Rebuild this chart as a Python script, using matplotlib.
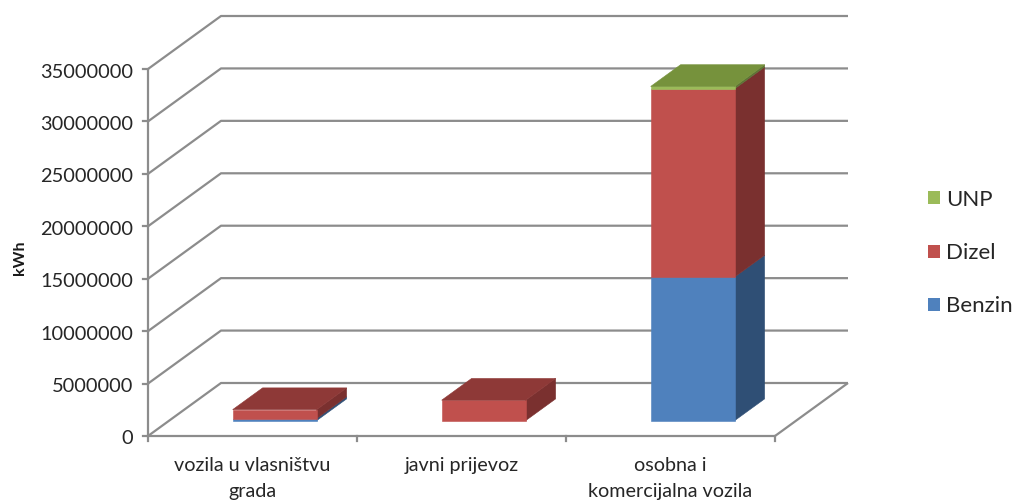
import matplotlib
matplotlib.use("Agg")
import matplotlib.pyplot as plt
from matplotlib.patches import Polygon, Patch

plt.rcParams["font.family"] = ["Lato", "DejaVu Sans"]

# Energy use by vehicle group, stacked by fuel (kWh)
categories = ["vozila u vlasništvu\ngrada", "javni prijevoz", "osobna i\nkomercijalna vozila"]
benzin = [200000, 0, 13700000]
dizel = [850000, 1950000, 17950000]
unp = [0, 0, 220000]
series_names = ["Benzin", "Dizel", "UNP"]
series_values = [benzin, dizel, unp]
value_ticks = [0, 5000000, 10000000, 15000000, 20000000, 25000000, 30000000, 35000000]

front_colors = ["#4F81BD", "#C0504D", "#9BBB59"]
side_colors = ["#2F4F75", "#7A302F", "#5E7335"]
top_colors = ["#3C6595", "#8E3937", "#76923C"]
GRID = "#8C8C8C"

W, H = 1013, 500
fig = plt.figure(figsize=(W / 100, H / 100), dpi=100)

# The axes is the front plane of the box; depth is a shear applied in data units
left, right, bottom, top = 148, 775, 436, 69
ax = fig.add_axes([left / W, 1 - bottom / H, (right - left) / W, (bottom - top) / H])
ax.set_xlim(0, 3)
ax.set_ylim(0, 35000000)
ax.axis("off")

x_per_px = 3 / (right - left)
y_per_px = 35000000 / (bottom - top)
DEPTH_X = 73 * x_per_px
DEPTH_Y = 53 * y_per_px


def project(x, y, depth):
    return (x + depth * DEPTH_X, y + depth * DEPTH_Y)


def line(points, lw=1.6, z=1):
    xs, ys = zip(*points)
    ax.plot(xs, ys, color=GRID, lw=lw, clip_on=False, zorder=z, solid_capstyle="butt")


# Wall grid: each level runs along the side wall and then the back wall
for v in value_ticks:
    line([project(0, v, 0), project(0, v, 1), project(3, v, 1)])
    ax.plot([-5 * x_per_px, 0], [v, v], color=GRID, lw=1.6, clip_on=False, zorder=1)

# Floor and front edges
line([(0, 0), (3, 0), project(3, 0, 1)])
line([(0, 0), (0, 35000000)])
for i in range(4):
    ax.plot([i, i], [-5 * y_per_px, 0], color=GRID, lw=1.6, clip_on=False, zorder=1)


def face(points, color, z):
    ax.add_patch(Polygon(points, closed=True, facecolor=color, edgecolor=color,
                         lw=0.4, clip_on=False, zorder=z))


# Stacked bars with a side and top face
bar_half = 84 * x_per_px / 2
bar_shift = 1 * x_per_px
d0, d1 = 0.29, 0.70
for i in range(len(categories)):
    x0, x1 = i + 0.5 + bar_shift - bar_half, i + 0.5 + bar_shift + bar_half
    base = 0
    z = 3 + i
    last = max(k for k, s in enumerate(series_values) if s[i] > 0)
    for k, s in enumerate(series_values):
        v = s[i]
        if v <= 0:
            continue
        y0, y1 = base, base + v
        face([project(x1, y0, d0), project(x1, y0, d1), project(x1, y1, d1), project(x1, y1, d0)],
             side_colors[k], z)
        face([project(x0, y0, d0), project(x1, y0, d0), project(x1, y1, d0), project(x0, y1, d0)],
             front_colors[k], z + 0.1)
        if k == last:
            face([project(x0, y1, d0), project(x1, y1, d0), project(x1, y1, d1), project(x0, y1, d1)],
                 top_colors[k], z + 0.2)
        base = y1

# Value labels
for v in value_ticks:
    ax.annotate(str(v), xy=(0, v), xytext=(-15, -3), textcoords="offset pixels",
                ha="right", va="center", fontsize=14.4, color="#262626", annotation_clip=False)

# Category labels
for i, name in enumerate(categories):
    ax.annotate(name, xy=(i + 0.5, 0), xytext=(0, -21), textcoords="offset pixels",
                ha="center", va="top", fontsize=14.2, color="#262626", linespacing=1.65,
                annotation_clip=False)

fig.text(20 / W, 1 - 258 / H, "kWh", rotation=90, ha="center", va="center",
         fontsize=11.5, fontweight="bold", color="#1a1a1a")

# Legend lists the top series first
handles = [Patch(facecolor=c, edgecolor="none", label=n)
           for c, n in zip(front_colors[::-1], series_names[::-1])]
fig.legend(handles=handles, loc="center left", bbox_to_anchor=(928 / W, 1 - 253 / H),
           frameon=False, fontsize=16, handlelength=0.54, handleheight=0.54,
           handletextpad=0.27, labelspacing=1.5, labelcolor="#262626",
           borderpad=0, borderaxespad=0)

fig.savefig("out.png", dpi=100, facecolor="white")
